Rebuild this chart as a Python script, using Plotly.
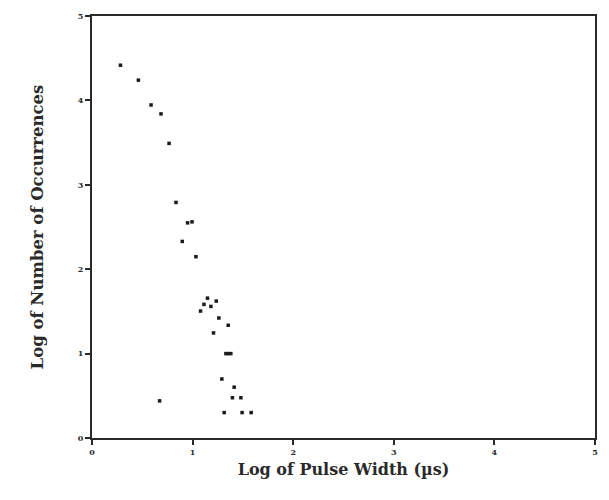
import plotly.graph_objects as go

# Log10 pulse width (µs) and log10 count of occurrences for each observed width
log_width = [0.283, 0.461, 0.587, 0.686, 0.766,
             0.835, 0.950, 0.994, 0.897, 1.033,
             1.148, 1.113, 1.182, 1.235, 1.079, 1.261, 1.354, 1.208,
             1.331, 1.354, 1.380,
             1.291, 1.413, 1.396, 1.480, 0.672,
             1.314, 1.492, 1.582]
log_count = [4.417, 4.240, 3.946, 3.840, 3.491,
             2.791, 2.549, 2.561, 2.329, 2.148,
             1.657, 1.583, 1.559, 1.622, 1.504, 1.422, 1.336, 1.245,
             1.000, 1.000, 1.000,
             0.699, 0.602, 0.477, 0.477, 0.440,
             0.301, 0.301, 0.301]

tick_vals = [0, 1, 2, 3, 4, 5]
tick_text = ["0", "1", "2", "3", "4", "5"]

ink = "#2a2a2a"
serif = "DejaVu Serif"

fig = go.Figure(
    go.Scatter(
        x=log_width,
        y=log_count,
        mode="markers",
        marker=dict(symbol="square", size=3.5, color="#1a1a1a", line=dict(width=0)),
        hoverinfo="x+y",
    )
)

axis_common = dict(
    range=[0, 5],
    tickvals=tick_vals,
    ticktext=tick_text,
    showgrid=False,
    zeroline=False,
    showline=True,
    linecolor=ink,
    linewidth=2,
    mirror=True,
    ticks="outside",
    tickcolor=ink,
    tickwidth=1.5,
    ticklen=5,
    tickfont=dict(family=serif, size=8, color=ink, weight="bold"),
)

fig.update_xaxes(
    **axis_common,
    title=dict(text="Log of Pulse Width (µs)", standoff=8,
               font=dict(family=serif, size=16, color=ink, weight="bold")),
)
fig.update_yaxes(
    **axis_common,
    title=dict(text="Log of Number of Occurrences", standoff=30,
               font=dict(family=serif, size=16.5, color=ink, weight="bold")),
)

fig.update_layout(
    width=609,
    height=500,
    margin=dict(l=92, r=12, t=11, b=62),
    paper_bgcolor="white",
    plot_bgcolor="white",
    showlegend=False,
)

fig.write_html("out.html")
